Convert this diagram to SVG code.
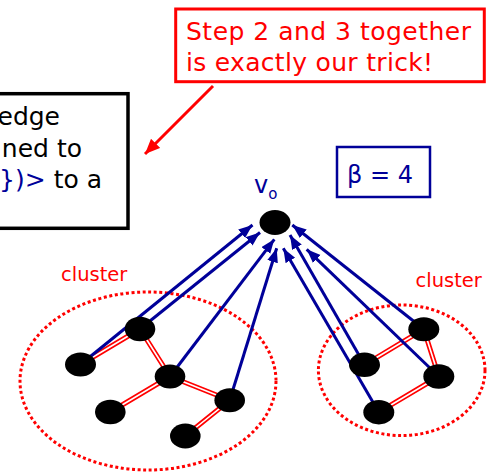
<svg xmlns="http://www.w3.org/2000/svg" width="501" height="472" viewBox="0 0 501 472">
<style>
  text { font-family: "DejaVu Sans", Verdana, sans-serif; }
  .node { fill: #000; }
  .edge-out { stroke: #FF0000; stroke-width: 5; fill: none; }
  .edge-in { stroke: #FFFFFF; stroke-width: 1.6; fill: none; }
  .arr { stroke: #000099; stroke-width: 3; fill: none; marker-end: url(#ah); }
  .clus { fill: none; stroke: #FF0000; stroke-width: 3; stroke-dasharray: 3 2.6; }
  .red { fill: #FF0000; }
  .blue { fill: #000099; }
</style>
<defs>
  <marker id="ah" markerUnits="userSpaceOnUse" markerWidth="16" markerHeight="12" refX="14" refY="5.5" orient="auto">
    <path d="M0,0 L14,5.5 L0,11 z" fill="#000099"/>
  </marker>
  <marker id="rah" markerUnits="userSpaceOnUse" markerWidth="18" markerHeight="14" refX="15" refY="6.5" orient="auto">
    <path d="M0,0 L15,6.5 L0,13 z" fill="#FF0000"/>
  </marker>
</defs>
<rect width="501" height="472" fill="#FFFFFF"/>

<g id="callout-red">
  <rect x="175.7" y="9" width="308.6" height="72.7" fill="#FFFFFF" stroke="#FF0000" stroke-width="3"/>
  <text x="186" y="40" font-size="25" class="red" textLength="285" lengthAdjust="spacing">Step 2 and 3 together</text>
  <text x="186" y="70.5" font-size="25" class="red" textLength="247" lengthAdjust="spacing">is exactly our trick!</text>
  <line x1="213" y1="86" x2="145" y2="154" stroke="#FF0000" stroke-width="3" marker-end="url(#rah)"/>
</g>

<g id="callout-black">
  <rect x="-5" y="93.7" width="133" height="134.6" fill="#FFFFFF" stroke="#000" stroke-width="3.5"/>
  <text x="60" y="124.5" font-size="25" text-anchor="end" fill="#000">edge</text>
  <text x="82" y="156.5" font-size="25" text-anchor="end" fill="#000">ned to</text>
  <text x="102" y="187.5" font-size="25" text-anchor="end" fill="#000"><tspan class="blue">})&gt;</tspan> to a</text>
</g>

<g id="beta">
  <rect x="337" y="147" width="93" height="50" fill="#FFFFFF" stroke="#000099" stroke-width="2.5"/>
  <text x="347" y="183.3" font-size="24" class="blue">β = 4</text>
</g>

<g id="label-vo">
  <text x="254" y="193" font-size="24" class="blue">v<tspan font-size="15" dy="6">o</tspan></text>
</g>

<g id="cluster-left">
  <ellipse cx="148" cy="381" rx="128" ry="89" class="clus"/>
  <text x="61" y="281" font-size="19.5" class="red">cluster</text>
</g>
<g id="cluster-right">
  <ellipse cx="401.7" cy="370.3" rx="83.3" ry="65.3" class="clus"/>
  <text x="415.5" y="287.3" font-size="19.5" class="red">cluster</text>
</g>

<g id="connectors">
  <g id="tree-edges">
    <path class="edge-out" d="M80.5,364.5 L140,329 M140,329 L170,376.5 M170,376.5 L110.3,412 M170,376.5 L229.7,400.3 M229.7,400.3 L185.3,436 M364.5,364.8 L423.8,329.2 M423.8,329.2 L438.8,376.5 M438.8,376.5 L378.8,412.2"/>
    <path class="edge-in" d="M80.5,364.5 L140,329 M140,329 L170,376.5 M170,376.5 L110.3,412 M170,376.5 L229.7,400.3 M229.7,400.3 L185.3,436 M364.5,364.8 L423.8,329.2 M423.8,329.2 L438.8,376.5 M438.8,376.5 L378.8,412.2"/>
  </g>
  <g id="arrows">
    <line class="arr" x1="80.5" y1="364.5" x2="252.5" y2="225"/>
    <line class="arr" x1="140" y1="329" x2="260" y2="232.5"/>
    <line class="arr" x1="170" y1="376.5" x2="274.3" y2="239.3"/>
    <line class="arr" x1="229.7" y1="400.3" x2="276.7" y2="248.3"/>
    <line class="arr" x1="378.8" y1="412.2" x2="283.3" y2="248.3"/>
    <line class="arr" x1="364.5" y1="364.8" x2="290" y2="235"/>
    <line class="arr" x1="438.8" y1="376.5" x2="306.7" y2="249.3"/>
    <line class="arr" x1="423.8" y1="329.2" x2="292.3" y2="225"/>
  </g>
</g>

<g id="node-vo"><ellipse class="node" cx="275" cy="222.5" rx="15.5" ry="12.5"/></g>
<g id="node-a"><ellipse class="node" cx="80.5" cy="364.5" rx="15.5" ry="12"/></g>
<g id="node-b"><ellipse class="node" cx="140" cy="329" rx="15.3" ry="12.2"/></g>
<g id="node-c"><ellipse class="node" cx="170" cy="376.5" rx="15.3" ry="12"/></g>
<g id="node-d"><ellipse class="node" cx="229.7" cy="400.3" rx="15.3" ry="12"/></g>
<g id="node-e"><ellipse class="node" cx="110.3" cy="412" rx="15.3" ry="12.2"/></g>
<g id="node-f"><ellipse class="node" cx="185.3" cy="436" rx="15.3" ry="12.5"/></g>
<g id="node-g"><ellipse class="node" cx="423.8" cy="329.2" rx="15.5" ry="12"/></g>
<g id="node-h"><ellipse class="node" cx="364.5" cy="364.8" rx="15.5" ry="12.2"/></g>
<g id="node-i"><ellipse class="node" cx="438.8" cy="376.5" rx="15.5" ry="12.2"/></g>
<g id="node-j"><ellipse class="node" cx="378.8" cy="412.2" rx="15.5" ry="12.2"/></g>
</svg>
